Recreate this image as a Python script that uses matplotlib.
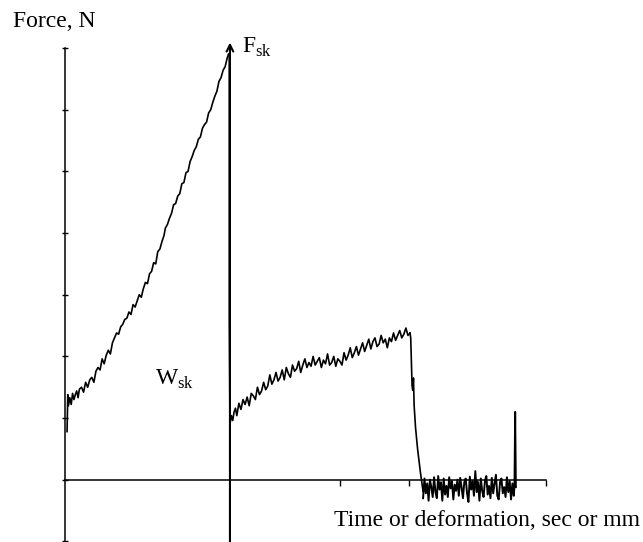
import numpy as np
import matplotlib
matplotlib.use('Agg')
import matplotlib.pyplot as plt

# rising part up to the peak force F_sk
x_rise = [0.03, 0.04, 0.05, 0.07, 0.09, 0.11, 0.13, 0.15, 0.17, 0.19, 0.21, 0.24, 0.27, 0.30, 0.33,
          0.36, 0.39, 0.42, 0.45, 0.48, 0.51, 0.54, 0.57, 0.60, 0.63, 0.66, 0.69, 0.72, 0.75, 0.78,
          0.81, 0.84, 0.87, 0.90, 0.93, 0.96, 0.99, 1.02, 1.05, 1.08, 1.11, 1.14, 1.17, 1.20, 1.23,
          1.26, 1.29, 1.32, 1.35, 1.38, 1.41, 1.44, 1.46, 1.49, 1.52, 1.55, 1.58, 1.61, 1.64, 1.67,
          1.70, 1.73, 1.76, 1.79, 1.82, 1.85, 1.88, 1.91, 1.94, 1.97, 2.00, 2.03, 2.06, 2.09, 2.12,
          2.15, 2.18, 2.21, 2.24, 2.27, 2.30, 2.33, 2.36, 2.38]
y_rise = [0.78, 1.38, 1.20, 1.33, 1.22, 1.40, 1.30, 1.38, 1.44, 1.33, 1.47, 1.50, 1.42, 1.58, 1.50,
          1.62, 1.66, 1.58, 1.76, 1.82, 1.78, 1.96, 1.88, 2.02, 2.10, 2.04, 2.22, 2.30, 2.38, 2.36,
          2.48, 2.52, 2.60, 2.62, 2.72, 2.68, 2.84, 2.80, 2.90, 3.00, 2.96, 3.10, 3.20, 3.18, 3.34,
          3.38, 3.52, 3.50, 3.70, 3.74, 3.86, 3.96, 4.08, 4.14, 4.24, 4.32, 4.46, 4.48, 4.60, 4.64,
          4.80, 4.82, 4.98, 5.00, 5.16, 5.24, 5.34, 5.40, 5.52, 5.56, 5.70, 5.76, 5.80, 5.95, 6.00,
          6.12, 6.22, 6.30, 6.46, 6.52, 6.64, 6.70, 6.84, 6.90]

# sudden drop after F_sk
x_drop1 = [2.38, 2.39, 2.39, 2.40]
y_drop1 = [6.90, 6.88, 2.60, 0.87]

# sliding part
x_slide = [2.40, 2.42, 2.44, 2.46, 2.48, 2.50, 2.53, 2.56, 2.59, 2.62, 2.65, 2.68, 2.71, 2.74, 2.77,
           2.80, 2.83, 2.86, 2.89, 2.92, 2.95, 2.98, 3.01, 3.04, 3.07, 3.10, 3.13, 3.16, 3.19, 3.22,
           3.25, 3.28, 3.31, 3.34, 3.37, 3.40, 3.43, 3.46, 3.49, 3.52, 3.55, 3.58, 3.61, 3.64, 3.67,
           3.70, 3.73, 3.76, 3.79, 3.82, 3.85, 3.88, 3.91, 3.94, 3.97, 4.00, 4.03, 4.06, 4.09, 4.12,
           4.15, 4.18, 4.21, 4.24, 4.27, 4.30, 4.33, 4.36, 4.39, 4.42, 4.45, 4.48, 4.51, 4.54, 4.57,
           4.60, 4.63, 4.66, 4.69, 4.72, 4.75, 4.78, 4.81, 4.84, 4.87, 4.90, 4.93, 4.96, 4.99, 5.02]
y_slide = [0.90, 1.04, 0.96, 1.10, 1.16, 1.04, 1.24, 1.14, 1.30, 1.22, 1.34, 1.20, 1.40, 1.36, 1.30,
           1.50, 1.38, 1.44, 1.58, 1.46, 1.52, 1.70, 1.55, 1.62, 1.74, 1.60, 1.66, 1.78, 1.62, 1.82,
           1.72, 1.66, 1.86, 1.76, 1.80, 1.92, 1.74, 1.86, 1.96, 1.82, 1.90, 1.84, 2.00, 1.86, 1.92,
           1.98, 1.82, 1.94, 1.88, 2.04, 1.86, 1.90, 2.00, 1.84, 1.96, 1.92, 1.86, 2.06, 1.94, 2.02,
           2.14, 1.98, 2.06, 2.16, 2.02, 2.12, 2.22, 2.08, 2.18, 2.28, 2.12, 2.24, 2.30, 2.16, 2.20,
           2.34, 2.22, 2.28, 2.14, 2.30, 2.24, 2.38, 2.26, 2.34, 2.42, 2.30, 2.36, 2.46, 2.34, 2.38]

# release
x_drop2 = [5.02, 5.03, 5.05, 5.06, 5.07, 5.08, 5.10, 5.13, 5.17, 5.21]
y_drop2 = [2.38, 2.30, 1.52, 1.45, 1.65, 1.20, 0.85, 0.50, 0.13, -0.19]

# unloaded, noise around zero with the final spike
x_rest = [5.21, 5.23, 5.25, 5.27, 5.29, 5.31, 5.33, 5.35, 5.37, 5.39, 5.41, 5.43, 5.45, 5.47, 5.49,
          5.51, 5.53, 5.55, 5.57, 5.59, 5.61, 5.63, 5.65, 5.67, 5.69, 5.71, 5.73, 5.75, 5.77, 5.79,
          5.81, 5.83, 5.85, 5.87, 5.89, 5.91, 5.93, 5.95, 5.97, 5.99, 6.01, 6.03, 6.05, 6.07, 6.09,
          6.11, 6.13, 6.15, 6.17, 6.19, 6.21, 6.23, 6.25, 6.27, 6.29, 6.31, 6.33, 6.35, 6.37, 6.39,
          6.41, 6.43, 6.45, 6.47, 6.49, 6.51, 6.53, 6.54, 6.55, 6.56]
y_rest = [-0.30, 0.02, -0.22, -0.06, -0.34, 0.00, -0.12, -0.28, 0.04, -0.20, -0.30, 0.06, -0.16, -0.04, -0.34,
          0.02, -0.24, -0.10, -0.28, 0.04, -0.14, -0.02, -0.32, -0.08, -0.18, 0.00, -0.26, 0.03, -0.12, -0.30,
          -0.04, 0.02, -0.22, -0.36, 0.05, -0.16, -0.02, -0.26, 0.14, -0.20, -0.04, -0.34, 0.02, -0.18, -0.28,
          -0.02, 0.06, -0.24, -0.10, -0.30, 0.03, -0.22, -0.06, 0.08, -0.26, -0.32, -0.04, 0.02, -0.22, -0.12,
          -0.28, 0.04, -0.20, -0.02, -0.32, -0.06, -0.26, -0.10, 1.10, -0.12]

x_fsk = 2.40
y_fsk_top = 7.09
y_ticks = [-1, 0, 1, 2, 3, 4, 5, 6, 7]
x_ticks = [4, 5, 6, 7]

plt.rcParams['font.family'] = ['Liberation Serif', 'DejaVu Serif']
plt.rcParams['mathtext.fontset'] = 'custom'
plt.rcParams['mathtext.rm'] = 'Liberation Serif'

fig = plt.figure(figsize=(6.43, 5.42), dpi=100)
ax = fig.add_axes([0, 0, 1, 1])
ax.set_xlim(-0.946, 8.41)
ax.set_ylim(-1.01, 7.78)

for xs, ys, w in [(x_rise, y_rise, 1.2), (x_drop1, y_drop1, 1.2), (x_slide, y_slide, 1.2),
                  (x_drop2, y_drop2, 1.2), (x_rest, y_rest, 1.4)]:
    ax.plot(xs, ys, color='black', lw=w)

ax.annotate('', xy=(x_fsk, y_fsk_top), xytext=(x_fsk, -1.02),
            arrowprops=dict(arrowstyle='->', lw=1.5, color='black',
                            shrinkA=0, shrinkB=0, mutation_scale=12))

ax.spines['top'].set_visible(False)
ax.spines['right'].set_visible(False)
ax.spines['left'].set_position(('data', 0))
ax.spines['bottom'].set_position(('data', 0))
ax.spines['left'].set_bounds(-1.01, 7)
ax.spines['bottom'].set_bounds(0, 7)
ax.spines['left'].set_linewidth(1.1)
ax.spines['bottom'].set_linewidth(1.1)
ax.set_yticks(y_ticks)
ax.set_xticks(x_ticks)
ax.tick_params(axis='y', direction='inout', length=5, width=1, labelleft=False)
ax.tick_params(axis='x', direction='out', length=4, width=1, labelbottom=False)

fig.text(13/643, 1-27/542, 'Force, N', fontsize=17, va='baseline')
fig.text(242/643, 1-53/542, r'F$_{\mathrm{sk}}$', fontsize=17, va='baseline')
fig.text(155/643, 1-385/542, r'W$_{\mathrm{sk}}$', fontsize=17, va='baseline')
fig.text(640/643, 1-526/542, 'Time or deformation, sec or mm', fontsize=17,
         va='baseline', ha='right')

plt.savefig('out.png', dpi=100)
